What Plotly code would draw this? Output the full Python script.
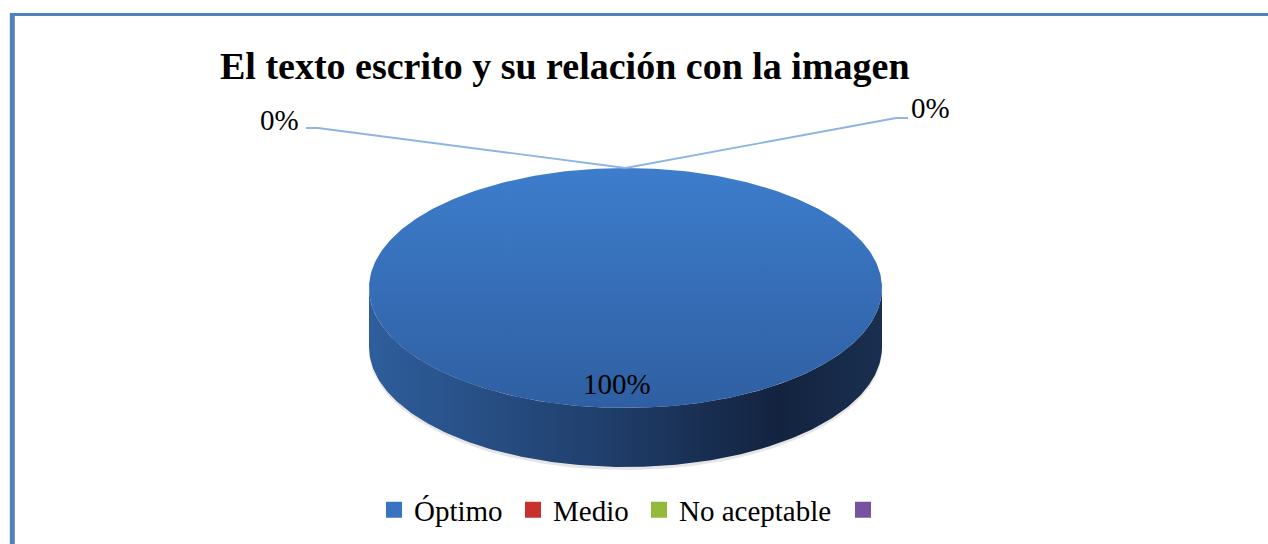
import numpy as np
import plotly.graph_objects as go

# ---- data ----
title_text = "El texto escrito y su relación con la imagen"
categories = ["Óptimo", "Medio", "No aceptable", ""]
values = [100, 0, 0, None]
colors = ["#3A73C2", "#C9312D", "#93BA3D", "#76529F"]

# ---- layout / style ----
W, H = 1268, 544
cx, cy = 625.5, 288.0       # centre of top face (px)
ra, rb = 256.5, 120.0       # ellipse semi-axes
depth = 59.0                # thickness of the 3D pie
font_family = "Liberation Serif, Times New Roman, serif"
label_size = 29
leader_color = "#8DB4E2"
frame_color = "#4F81BD"
legend_marker_centers = [394, 533, 659, 863]   # px, one legend box per entry
legend_y_px = 510

# label layout for outside (zero) labels: (text x, text y, elbow, end)
outside_layout = {
    1: dict(tx=279, ty=120, elbow=(318, 128), end=(306, 128)),
    2: dict(tx=930, ty=108, elbow=(896, 118), end=(908, 118)),
}


def ell(t_deg, dy=0.0, scale=1.0):
    t = np.radians(t_deg)
    return cx + ra * scale * np.sin(t), cy - rb * scale * np.cos(t) + dy


fig = go.Figure()

# slice angles (start at 12 o'clock, clockwise)
vals = [v for v in values if v is not None]
total = float(sum(vals))
angles = []
acc = 0.0
for v in vals:
    a0 = acc / total * 360.0
    acc += v
    a1 = acc / total * 360.0
    angles.append((a0, a1))

side_scales = {
    0: [[0, "#2E5E9C"], [0.45, "#203F6C"], [0.8, "#13233F"], [1, "#1A2F50"]],
    1: [[0, "#A8302C"], [1, "#5A1714"]],
    2: [[0, "#7C9A33"], [1, "#43541B"]],
}
top_scales = {
    0: [[0, "#2F5FA2"], [1, "#3D7DCC"]],
    1: [[0, "#A5302C"], [1, "#D4403B"]],
    2: [[0, "#7C9A33"], [1, "#A2C75A"]],
}

# soft shadow
ts = np.linspace(0, 360, 361)
sx, sy = ell(ts, dy=depth + 3, scale=1.0)
fig.add_trace(go.Scatter(x=sx, y=sy, mode="lines", fill="toself",
                         fillcolor="rgba(0,0,0,0.10)", line=dict(width=0),
                         hoverinfo="skip", showlegend=False))

# side walls (front half only: 90..270 deg)
for i, (a0, a1) in enumerate(angles):
    if a1 - a0 <= 0:
        continue
    s0, s1 = max(a0, 90.0), min(a1, 270.0)
    if s1 <= s0:
        continue
    tt = np.linspace(s0, s1, 200)
    x1, y1 = ell(tt)
    x2, y2 = ell(tt[::-1], dy=depth)
    fig.add_trace(go.Scatter(
        x=np.concatenate([x1, x2]), y=np.concatenate([y1, y2]),
        mode="lines", fill="toself", line=dict(width=0),
        fillgradient=dict(type="horizontal", colorscale=side_scales.get(i, [[0, colors[i]], [1, colors[i]]])),
        hoverinfo="skip", showlegend=False))

# top faces
for i, (a0, a1) in enumerate(angles):
    if a1 - a0 <= 0:
        continue
    tt = np.linspace(a0, a1, 400)
    xs, ys = ell(tt)
    if a1 - a0 < 360:
        xs = np.concatenate([[cx], xs, [cx]])
        ys = np.concatenate([[cy], ys, [cy]])
    fig.add_trace(go.Scatter(
        x=xs, y=ys, mode="lines", fill="toself", line=dict(width=0),
        fillgradient=dict(type="vertical", colorscale=top_scales.get(i, [[0, colors[i]], [1, colors[i]]])),
        hoverinfo="skip", showlegend=False))

# data labels
annotations = []
for i, (a0, a1) in enumerate(angles):
    v = vals[i]
    pct = v / total * 100.0
    txt = f"{pct:.0f}%"
    if v > 0:
        lx, ly = ell((a0 + a1) / 2.0, scale=0.8)
        annotations.append(dict(x=lx - 9, y=ly, xref="x", yref="y", text=txt,
                                showarrow=False, font=dict(family=font_family, size=label_size, color="black")))
    else:
        lay = outside_layout[i]
        px, py = ell(a0)
        fig.add_trace(go.Scatter(x=[px, lay["elbow"][0], lay["end"][0]],
                                 y=[py, lay["elbow"][1], lay["end"][1]],
                                 mode="lines", line=dict(color=leader_color, width=1.8),
                                 hoverinfo="skip", showlegend=False))
        annotations.append(dict(x=lay["tx"], y=lay["ty"], xref="x", yref="y", text=txt,
                                showarrow=False, xanchor="center", yanchor="middle",
                                font=dict(family=font_family, size=label_size, color="black")))

# title
annotations.append(dict(x=565, y=66, xref="x", yref="y", text=f"<b>{title_text}</b>",
                        showarrow=False, xanchor="center", yanchor="middle",
                        font=dict(family=font_family, size=38, color="black")))

# legend entries (one legend box per entry so each can be placed)
legend_layouts = {}
for k, (name, col, mx) in enumerate(zip(categories, colors, legend_marker_centers)):
    lg = "legend" if k == 0 else f"legend{k + 1}"
    fig.add_trace(go.Scatter(x=[None], y=[None], mode="markers", name=name if name else " ",
                             marker=dict(symbol="square", size=16, color=col),
                             hoverinfo="skip", showlegend=True, legend=lg))
    legend_layouts[lg] = dict(
        orientation="h", x=(mx - 20) / W, xanchor="left",
        y=1 - legend_y_px / H, yanchor="middle",
        font=dict(family=font_family, size=label_size, color="black"),
        itemsizing="trace", bgcolor="rgba(0,0,0,0)", borderwidth=0,
    )

# frame
shapes = [
    dict(type="line", xref="x", yref="y", x0=12.3, x1=12.3, y0=13, y1=H, line=dict(color=frame_color, width=5)),
    dict(type="line", xref="x", yref="y", x0=10, x1=W, y0=14.5, y1=14.5, line=dict(color=frame_color, width=3)),
]

fig.update_layout(
    width=W, height=H,
    margin=dict(l=0, r=0, t=0, b=0),
    paper_bgcolor="white", plot_bgcolor="white",
    xaxis=dict(range=[0, W], visible=False, fixedrange=True),
    yaxis=dict(range=[H, 0], visible=False, fixedrange=True),
    showlegend=True,
    annotations=annotations,
    shapes=shapes,
    **legend_layouts,
)

fig.write_html("out.html", config={"displayModeBar": False},
               post_script="document.body.style.margin='0';document.body.style.overflow='hidden';")
